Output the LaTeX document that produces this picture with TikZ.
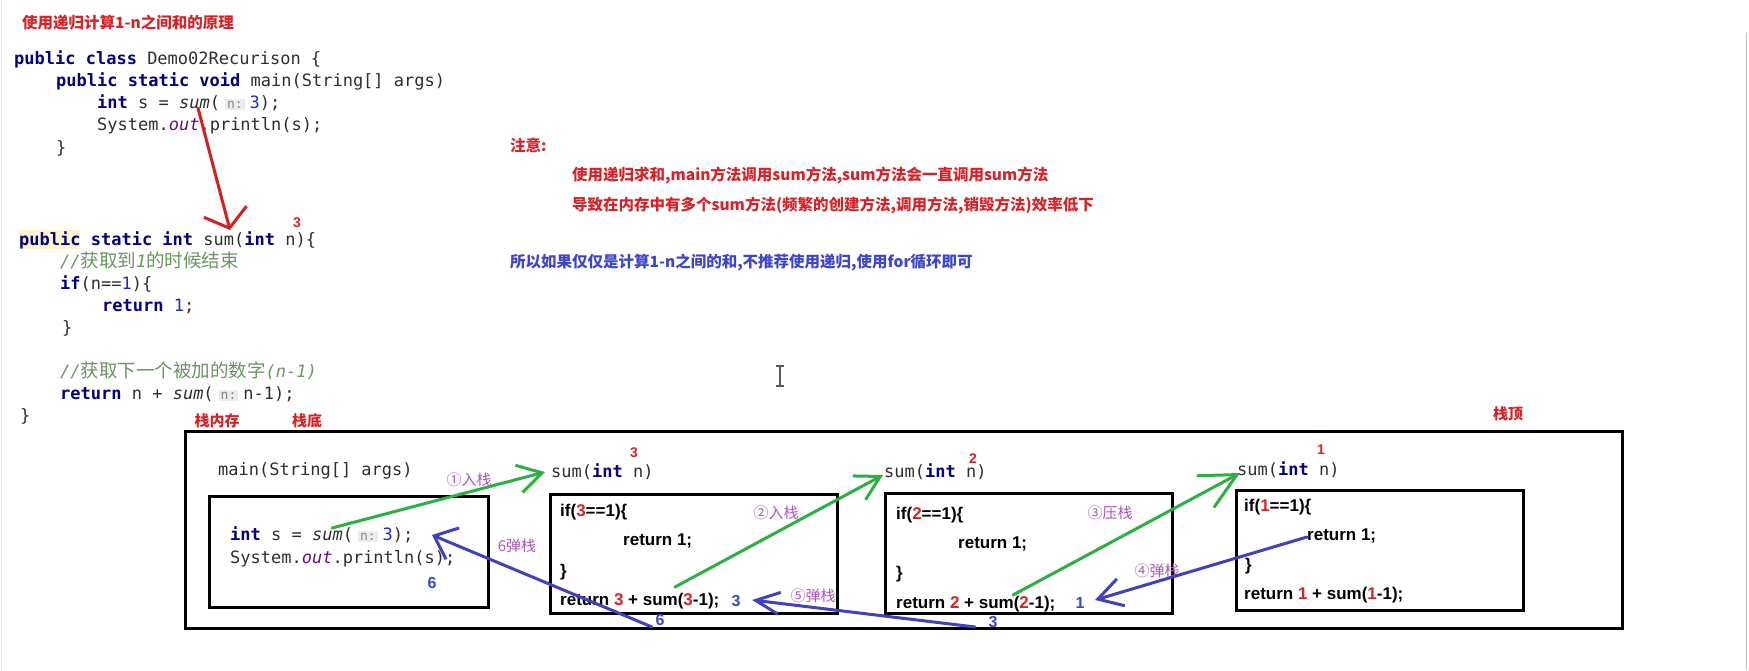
\documentclass[tikz,border=0pt]{standalone}
\usepackage{fontspec}
\usetikzlibrary{arrows.meta}
\newfontfamily\mono{DejaVu Sans Mono}
\newfontfamily\cjk{Noto Sans CJK SC}
\newfontfamily\asans{Liberation Sans}
\definecolor{kwc}{RGB}{0,0,128}
\definecolor{numc}{RGB}{40,40,190}
\definecolor{outc}{RGB}{102,14,122}
\definecolor{cmtc}{RGB}{105,150,95}
\definecolor{hintbg}{RGB}{236,236,236}
\definecolor{hintfg}{RGB}{135,135,135}
\definecolor{redc}{RGB}{215,35,40}
\definecolor{bluec}{RGB}{60,70,200}
\definecolor{greenc}{RGB}{45,175,65}
\definecolor{arrblue}{RGB}{65,65,185}
\definecolor{arrred}{RGB}{212,32,32}
\definecolor{labc}{RGB}{175,85,190}
\definecolor{pubbg}{RGB}{250,243,205}
\newcommand\kw[1]{{\bfseries\color{kwc}#1}}
\newcommand\nm[1]{{\color{numc}#1}}
\newcommand\rn[1]{{\color{redc}#1}}
\newcommand\hnt[1]{\hspace{5pt}{\setlength\fboxsep{2pt}\colorbox{hintbg}{\fontsize{13}{13}\selectfont\color{hintfg}#1}}\hspace{5pt}}
\newcommand\cmtcjk{\cjk\upshape\fontsize{18.5}{20}\selectfont}
\tikzset{
  code/.style={anchor=base west, inner sep=0pt, font=\mono\fontsize{17}{20}\selectfont, text=black!82},
  bx/.style={anchor=base west, inner sep=0pt, font=\asans\bfseries\fontsize{17}{20}\selectfont, text=black},
  frame/.style={draw=black, line width=3pt},
  titlefont/.style={anchor=west, inner sep=0pt, font=\cjk\bfseries\fontsize{15.5}{16}\selectfont, text=redc},
  notered/.style={anchor=west, inner sep=0pt, font=\cjk\bfseries\fontsize{15.5}{16}\selectfont, text=redc},
  noteblue/.style={anchor=west, inner sep=0pt, font=\cjk\bfseries\fontsize{15.5}{16}\selectfont, text=bluec},
  redlbl/.style={inner sep=0pt, font=\cjk\bfseries\fontsize{15}{15}\selectfont, text=redc},
  steplbl/.style={inner sep=0pt, font=\cjk\fontsize{15}{15}\selectfont, text=labc},
  valnum/.style={inner sep=0pt, font=\asans\bfseries\fontsize{16}{16}\selectfont, text=bluec},
  rednum/.style={inner sep=0pt, font=\asans\bfseries\fontsize{14}{14}\selectfont, text=redc},
  garr/.style={draw=greenc, line width=3pt, line cap=round},
  barr/.style={draw=arrblue, line width=3pt, line cap=round},
  rarr/.style={draw=arrred, line width=3pt, line cap=round},
}
\begin{document}
\begin{tikzpicture}[x=1pt,y=-1pt]
\useasboundingbox (0,0) rectangle (1749,670);
\fill[white] (0,0) rectangle (1749,670);
\draw[black!25, line width=1pt] (1746.5,33) -- (1746.5,670);
\draw[black!10, line width=1pt] (1.5,0) -- (1.5,670);

% title
\node[titlefont] (title) at (22,23) {使用递归计算1-n之间和的原理};

% code block 1
\node[code] (a1) at (14,64) {\kw{public} \kw{class} Demo02Recurison \{};
\node[code] (a2) at (56,86) {\kw{public} \kw{static} \kw{void} main(String[] args)};
\node[code] (a3) at (97,108) {\kw{int} s = \textit{sum}(\hnt{n:}\nm{3});};
\node[code] (a4) at (97,130) {System.{\color{outc}\itshape out}.println(s);};
\node[code] (a5) at (56,153) {\}};

% code block 2
\fill[pubbg] (19,230) rectangle (80,249);
\node[code] (b1) at (19,245) {\kw{public} \kw{static} \kw{int} sum(\kw{int} n)\{};
\node[rednum] (b1n) at (297,223) {3};
\node[code, text=cmtc] (b2) at (60,267) {\itshape//{\cmtcjk 获取到}1{\cmtcjk 的时候结束}};
\node[code] (b3) at (60,289) {\kw{if}(n==\nm{1})\{};
\node[code] (b4) at (102,311) {\kw{return} \nm{1};};
\node[code] (b5) at (62,333) {\}};
\node[code, text=cmtc] (b7) at (60,377) {\itshape//{\cmtcjk 获取下一个被加的数字}(n-1)};
\node[code] (b8) at (60,399) {\kw{return} n + \textit{sum}(\hnt{n:}n-1);};
\node[code] (b9) at (20,421) {\}};

% red arrow
\coordinate (ra) at (198,108);
\coordinate (rb) at (230,230);
\draw[rarr, -{Straight Barb[length=17pt,width=44pt]}] (ra) -- (rb);

% notes
\node[notered] (n0) at (510,145) {注意:};
\node[notered] (n1) at (572,175) {使用递归求和,main方法调用sum方法,sum方法会一直调用sum方法};
\node[notered] (n2) at (572,205) {导致在内存中有多个sum方法(频繁的创建方法,调用方法,销毁方法)效率低下};
\node[noteblue] (n3) at (510,263) {所以如果仅仅是计算1-n之间的和,不推荐使用递归,使用for循环即可};

% cursor
\draw[black!65, line width=1.2pt] (780,366) -- (780,386) (776,366) -- (784,366) (776,386) -- (784,386);

% stack labels
\node[redlbl] (l1) at (217,421) {栈内存};
\node[redlbl] (l2) at (307,421) {栈底};
\node[redlbl] (l3) at (1508,414) {栈顶};

% outer stack frame
\draw[frame] (185,431) rectangle (1622,628);

% main frame
\node[code] (m0) at (218,475) {main(String[] args)};
\draw[frame] (209,496) rectangle (488,607);
\node[code] (m1) at (230,540) {\kw{int} s = \textit{sum}(\hnt{n:}\nm{3});};
\node[code] (m2) at (230,563) {System.{\color{outc}\itshape out}.println(s);};
\node[valnum] (m6) at (432,583) {6};

% sum frame 1
\node[code] (s1h) at (551,477) {sum(\kw{int} n)};
\node[rednum] (s1n) at (634,453) {3};
\draw[frame] (550,494) rectangle (837,613);
\node[bx] (s1a) at (560,516) {if(\rn{3}==1)\{};
\node[bx] (s1b) at (623,545) {return 1;};
\node[bx] (s1c) at (560,576) {\}};
\node[bx] (s1d) at (560,605) {return \rn{3} + sum(\rn{3}-1);};
\node[valnum] (s1v) at (736,601) {3};

% sum frame 2
\node[code] (s2h) at (884,477) {sum(\kw{int} n)};
\node[rednum] (s2n) at (973,459) {2};
\draw[frame] (885,493) rectangle (1172,613);
\node[bx] (s2a) at (896,519) {if(\rn{2}==1)\{};
\node[bx] (s2b) at (958,548) {return 1;};
\node[bx] (s2c) at (896,578) {\}};
\node[bx] (s2d) at (896,608) {return \rn{2} + sum(\rn{2}-1);};
\node[valnum] (s2v) at (1080,603) {1};

% sum frame 3
\node[code] (s3h) at (1237,475) {sum(\kw{int} n)};
\node[rednum] (s3n) at (1321,450) {1};
\draw[frame] (1236,490) rectangle (1523,610);
\node[bx] (s3a) at (1244,511) {if(\rn{1}==1)\{};
\node[bx] (s3b) at (1307,540) {return 1;};
\node[bx] (s3c) at (1245,570) {\}};
\node[bx] (s3d) at (1244,599) {return \rn{1} + sum(\rn{1}-1);};

% returned values along bottom
\node[valnum] (r6) at (660,620) {6};
\node[valnum] (r3) at (993,622) {3};

% step labels
\node[steplbl] (st1) at (469,480) {①入栈};
\node[steplbl] (st2) at (776,513) {②入栈};
\node[steplbl] (st3) at (1110,513) {③压栈};
\node[steplbl] (st4) at (1157,571) {④弹栈};
\node[steplbl] (st5) at (813,596) {⑤弹栈};
\node[steplbl] (st6) at (517,546) {6弹栈};

% green push arrows
\coordinate (g1s) at (332,528); \coordinate (g1e) at (545,472);
\coordinate (g2s) at (675,587); \coordinate (g2e) at (883,475);
\coordinate (g3s) at (1013,595); \coordinate (g3e) at (1240,473);
\draw[garr, -{Straight Barb[length=24pt,width=28pt]}] (g1s) -- (g1e);
\draw[garr, -{Straight Barb[length=24pt,width=27pt]}] (g2s) -- (g2e);
\draw[garr, -{Straight Barb[length=36pt,width=36pt]}] (g3s) -- (g3e);

% blue pop arrows
\coordinate (b4s) at (1307,537); \coordinate (b4e) at (1095,600);
\coordinate (b5s) at (975,627); \coordinate (b5e) at (752,600);
\coordinate (b6s) at (652,627); \coordinate (b6e) at (432,535);
\draw[barr, -{Straight Barb[length=24pt,width=28pt]}] (b4s) -- (b4e);
\draw[barr, -{Straight Barb[length=24pt,width=22pt]}] (b5s) -- (b5e);
\draw[barr, -{Straight Barb[length=20pt,width=34pt]}] (b6s) -- (b6e);
\end{tikzpicture}
\end{document}
